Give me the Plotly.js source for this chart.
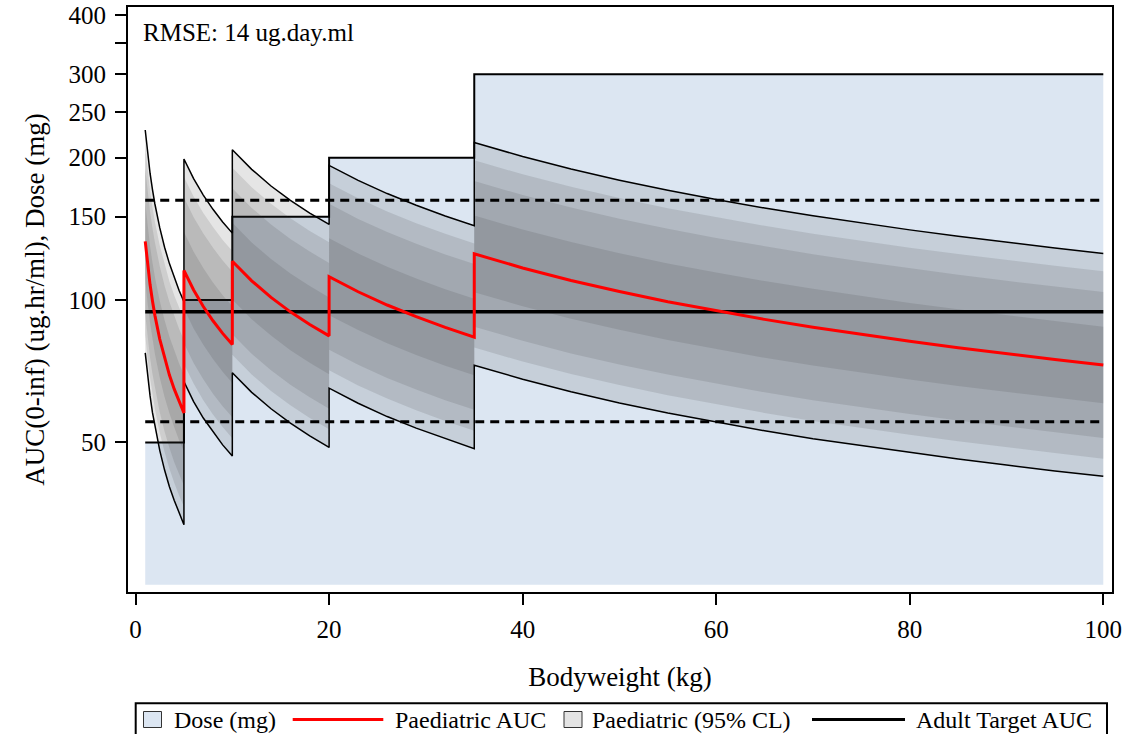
<!DOCTYPE html>
<html>
<head>
<meta charset="utf-8">
<script src="https://cdn.plot.ly/plotly-3.0.1.min.js"></script>
<style>
  html, body { margin: 0; padding: 0; background: #fff; }
  #chart { width: 1128px; height: 734px; }
</style>
</head>
<body>
<div id="chart"></div>
<script>
// Bodyweight grid (kg); repeated weights mark the dose-band switch points
const weightKg = [1, 1.25, 1.5, 1.75, 2, 2.5, 3, 3.5, 4, 4.5, 5,
                  5, 6, 7, 8, 9, 10,
                  10, 12, 14, 16, 18, 20,
                  20, 23, 26, 29, 32, 35,
                  35, 40, 45, 50, 55, 60, 65, 70, 75, 80, 85, 90, 95, 100];

// Paediatric AUC median (ug.hr/ml)
const aucMedian = [133, 118.4, 107.8, 99.5, 92.8, 82.7, 75.2, 69.4, 64.8, 60.9, 57.7,
                   115.5, 105.0, 96.9, 90.4, 85.0, 80.5,
                   120.8, 109.8, 101.3, 94.4, 88.8, 84.0,
                   112.0, 104.1, 97.6, 92.2, 87.5, 83.5,
                   125.2, 116.9, 110.0, 104.2, 99.2, 94.9, 91.0, 87.6, 84.6, 81.8, 79.3, 77.0, 74.9, 72.9];

// Prediction interval limits
const auc95Hi = [228.8, 203.6, 185.4, 171.1, 159.6, 142.2, 129.3, 119.4, 111.5, 104.7, 99.2,
                 198.7, 180.6, 166.7, 155.5, 146.2, 138.5,
                 207.8, 188.9, 174.2, 162.4, 152.7, 144.5,
                 192.6, 179.1, 167.9, 158.6, 150.5, 143.6,
                 215.3, 201.1, 189.2, 179.2, 170.6, 163.2, 156.5, 150.7, 145.5, 140.7, 136.4, 132.4, 128.8, 125.4];
const auc95Lo = [77.3, 68.8, 62.7, 57.8, 54.0, 48.1, 43.7, 40.3, 37.7, 35.4, 33.5,
                 67.2, 61.0, 56.3, 52.6, 49.4, 46.8,
                 70.2, 63.8, 58.9, 54.9, 51.6, 48.8,
                 65.1, 60.5, 56.7, 53.6, 50.9, 48.5,
                 72.8, 68.0, 64.0, 60.6, 57.7, 55.2, 52.9, 50.9, 49.2, 47.6, 46.1, 44.8, 43.5, 42.4];
const auc90Hi = [209.7, 186.7, 170.0, 156.9, 146.3, 130.4, 118.6, 109.4, 102.2, 96.0, 91.0,
                 182.1, 165.6, 152.8, 142.6, 134.0, 126.9,
                 190.5, 173.2, 159.8, 148.9, 140.0, 132.5,
                 176.6, 164.2, 153.9, 145.4, 138.0, 131.7,
                 197.4, 184.4, 173.5, 164.3, 156.4, 149.7, 143.5, 138.1, 133.4, 129.0, 125.1, 121.4, 118.1, 115.0];
const auc90Lo = [84.3, 75.1, 68.4, 63.1, 58.8, 52.4, 47.7, 44.0, 41.1, 38.6, 36.6,
                 73.2, 66.6, 61.4, 57.3, 53.9, 51.0,
                 76.6, 69.6, 64.2, 59.9, 56.3, 53.3,
                 71.0, 66.0, 61.9, 58.5, 55.5, 52.9,
                 79.4, 74.1, 69.8, 66.1, 62.9, 60.2, 57.7, 55.5, 53.6, 51.9, 50.3, 48.8, 47.5, 46.2];
const auc80Hi = [189.7, 168.8, 153.7, 141.9, 132.3, 117.9, 107.2, 99.0, 92.4, 86.8, 82.3,
                 164.7, 149.7, 138.2, 128.9, 121.2, 114.8,
                 172.3, 156.6, 144.5, 134.6, 126.6, 119.8,
                 159.7, 148.4, 139.2, 131.5, 124.8, 119.1,
                 178.5, 166.7, 156.9, 148.6, 141.5, 135.3, 129.8, 124.9, 120.6, 116.6, 113.1, 109.8, 106.8, 104.0];
const auc80Lo = [93.3, 83.0, 75.6, 69.8, 65.1, 58.0, 52.7, 48.7, 45.4, 42.7, 40.5,
                 81.0, 73.6, 68.0, 63.4, 59.6, 56.5,
                 84.7, 77.0, 71.0, 66.2, 62.3, 58.9,
                 78.5, 73.0, 68.4, 64.7, 61.4, 58.6,
                 87.8, 82.0, 77.1, 73.1, 69.6, 66.6, 63.8, 61.4, 59.3, 57.4, 55.6, 54.0, 52.5, 51.1];
const auc50Hi = [160.3, 142.7, 129.9, 119.9, 111.8, 99.7, 90.6, 83.6, 78.1, 73.4, 69.5,
                 139.2, 126.5, 116.8, 108.9, 102.4, 97.0,
                 145.6, 132.3, 122.1, 113.8, 107.0, 101.2,
                 135.0, 125.4, 117.6, 111.1, 105.4, 100.6,
                 150.9, 140.9, 132.6, 125.6, 119.5, 114.4, 109.7, 105.6, 101.9, 98.6, 95.6, 92.8, 90.3, 87.8];
const auc50Lo = [110.4, 98.3, 89.5, 82.6, 77.0, 68.6, 62.4, 57.6, 53.8, 50.5, 47.9,
                 95.9, 87.1, 80.4, 75.0, 70.5, 66.8,
                 100.3, 91.1, 84.1, 78.3, 73.7, 69.7,
                 92.9, 86.4, 81.0, 76.5, 72.6, 69.3,
                 103.9, 97.0, 91.3, 86.5, 82.3, 78.8, 75.5, 72.7, 70.2, 67.9, 65.8, 63.9, 62.2, 60.5];

// Weight-banded dosing: band edges (kg) and dose per band (mg)
const doseBandEdgesKg = [1, 5, 10, 20, 35, 100];
const doseMg = [50, 100, 150, 200, 300];
const doseFloor = 25;

// Adult exposure target and its range (ug.hr/ml)
const adultTargetAuc = 94.5;
const targetRangeLow = 55.3;
const targetRangeHigh = 162.5;

const yTickVals = [50, 100, 150, 200, 250, 300, 350, 400];
const yTickText = ['50', '100', '150', '200', '250', '300', '', '400'];
const xTickVals = [0, 20, 40, 60, 80, 100];

const FONT = 'Liberation Serif, Times New Roman, serif';
const DOSE_BLUE = 'rgb(220,230,242)';
const BAND_GREY = 'rgba(40,40,40,0.12)';

// dose step line
const stepX = [], stepY = [];
doseMg.forEach((d, i) => {
  stepX.push(doseBandEdgesKg[i], doseBandEdgesKg[i + 1]);
  stepY.push(d, d);
});
const xFirst = doseBandEdgesKg[0];
const xLast = doseBandEdgesKg[doseBandEdgesKg.length - 1];

function bandPolygon(hi, lo) {
  return {
    x: weightKg.concat(weightKg.slice().reverse()),
    y: hi.concat(lo.slice().reverse())
  };
}

const traces = [];
// dose area
traces.push({
  x: [xFirst].concat(stepX, [xLast, xFirst]),
  y: [doseFloor].concat(stepY, [doseFloor, doseFloor]),
  mode: 'lines', fill: 'toself', fillcolor: DOSE_BLUE,
  line: { width: 0 }, hoverinfo: 'skip', showlegend: false
});
traces.push({
  x: stepX, y: stepY, mode: 'lines',
  line: { color: '#000', width: 2 }, hoverinfo: 'skip', showlegend: false
});
// nested prediction bands
[[auc95Hi, auc95Lo], [auc90Hi, auc90Lo], [auc80Hi, auc80Lo], [auc50Hi, auc50Lo]].forEach(([hi, lo]) => {
  const p = bandPolygon(hi, lo);
  traces.push({
    x: p.x, y: p.y, mode: 'lines', fill: 'toself', fillcolor: BAND_GREY,
    line: { width: 0 }, hoverinfo: 'skip', showlegend: false
  });
});
[auc95Hi, auc95Lo].forEach(v => traces.push({
  x: weightKg, y: v, mode: 'lines',
  line: { color: '#000', width: 1.5 }, hoverinfo: 'skip', showlegend: false
}));
// target range and adult target
[targetRangeHigh, targetRangeLow].forEach(v => traces.push({
  x: [xFirst, xLast], y: [v, v], mode: 'lines',
  line: { color: '#000', width: 3, dash: '9px,6px' }, hoverinfo: 'skip', showlegend: false
}));
traces.push({
  x: [xFirst, xLast], y: [adultTargetAuc, adultTargetAuc], mode: 'lines',
  line: { color: '#000', width: 3.5 }, hoverinfo: 'skip', showlegend: false
});
traces.push({
  x: weightKg, y: aucMedian, mode: 'lines',
  line: { color: '#ff0000', width: 3 }, hoverinfo: 'skip', showlegend: false
});

// page-pixel helpers for the legend box under the plot
const M = { l: 128, r: 16, t: 7, b: 142 };
const W = 1128, H = 734;
const pw = W - M.l - M.r, ph = H - M.t - M.b;
const px = v => (v - M.l) / pw;
const py = v => (H - M.b - v) / ph;

const legendY = 719.5;
const shapes = [
  { type: 'rect', xref: 'paper', yref: 'paper', x0: px(135.7), x1: px(1107), y0: py(703.3), y1: py(760),
    line: { color: '#000', width: 2 }, fillcolor: 'rgba(0,0,0,0)' },
  { type: 'rect', xref: 'paper', yref: 'paper', x0: px(143.5), x1: px(161.5), y0: py(711.5), y1: py(727.5),
    line: { color: '#333', width: 1 }, fillcolor: DOSE_BLUE },
  { type: 'line', xref: 'paper', yref: 'paper', x0: px(292.7), x1: px(383.3), y0: py(legendY), y1: py(legendY),
    line: { color: '#ff0000', width: 3 } },
  { type: 'rect', xref: 'paper', yref: 'paper', x0: px(564), x1: px(582), y0: py(711.5), y1: py(727.5),
    line: { color: '#333', width: 1 }, fillcolor: '#e4e4e4' },
  { type: 'line', xref: 'paper', yref: 'paper', x0: px(812), x1: px(905), y0: py(legendY), y1: py(legendY),
    line: { color: '#000', width: 3 } }
];
const legendLabels = [
  ['Dose (mg)', 171.7],
  ['Paediatric AUC', 392.7],
  ['Paediatric (95% CL)', 590],
  ['Adult Target AUC', 914]
];
const annotations = legendLabels.map(([t, x]) => ({
  text: t, xref: 'paper', yref: 'paper', x: px(x), y: py(legendY),
  xanchor: 'left', yanchor: 'middle', showarrow: false,
  font: { family: FONT, size: 24, color: '#000' }
}));
annotations.push({
  text: 'RMSE: 14 ug.day.ml', xref: 'paper', yref: 'paper', x: px(141), y: py(33),
  xanchor: 'left', yanchor: 'middle', showarrow: false,
  font: { family: FONT, size: 25, color: '#000' }
});

const axisCommon = {
  showgrid: false, zeroline: false, showline: true, mirror: true,
  linecolor: '#000', linewidth: 2, ticks: 'outside', ticklen: 11, tickwidth: 2,
  tickcolor: '#000', tickfont: { family: FONT, size: 25, color: '#000' }
};

const layout = {
  width: W, height: H,
  margin: M,
  paper_bgcolor: '#fff', plot_bgcolor: '#fff',
  showlegend: false,
  xaxis: Object.assign({}, axisCommon, {
    range: [-0.78, 100.9], tickvals: xTickVals, ticklabelstandoff: 3,
    title: { text: 'Bodyweight (kg)', font: { family: FONT, size: 27, color: '#000' }, standoff: 25 }
  }),
  yaxis: Object.assign({}, axisCommon, {
    type: 'log', range: [1.3827, 2.6195], tickvals: yTickVals, ticktext: yTickText,
    ticklabelstandoff: 4,
    title: { text: 'AUC(0-inf) (ug.hr/ml), Dose (mg)', font: { family: FONT, size: 27, color: '#000' }, standoff: 16 }
  }),
  shapes: shapes,
  annotations: annotations
};

Plotly.newPlot('chart', traces, layout, { staticPlot: true, displayModeBar: false });
</script>
</body>
</html>
